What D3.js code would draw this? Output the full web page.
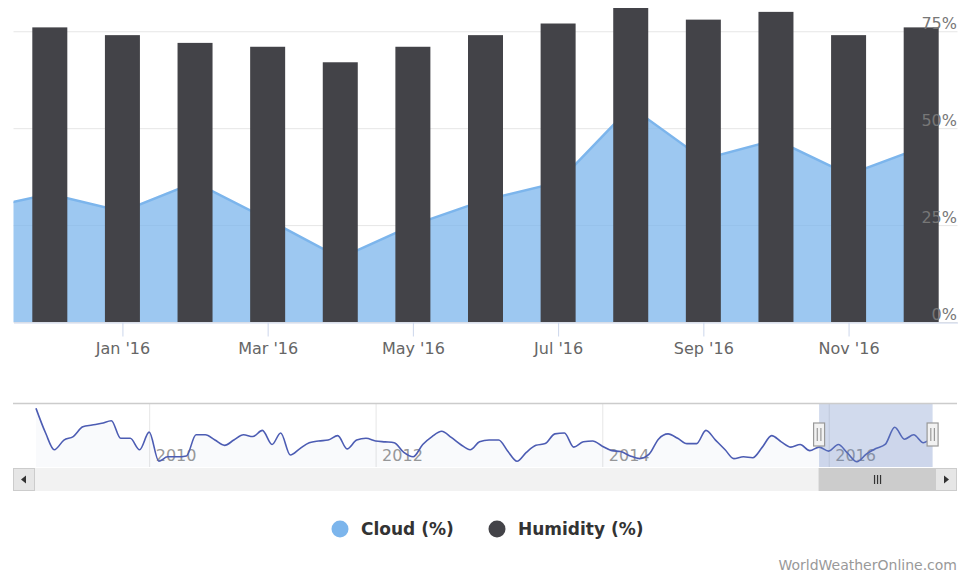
<!DOCTYPE html>
<html>
<head>
<meta charset="utf-8">
<script src="https://cdn.jsdelivr.net/npm/d3@7"></script>
<style>
  body { margin: 0; background: #fff; }
  svg { display: block; font-family: "DejaVu Sans", Verdana, sans-serif; }
</style>
</head>
<body>
<svg id="chart" width="961" height="575"></svg>
<script>
// Monthly cloud cover (%), January to December of each year
const cloud2009 = [77, 49, 30, 41, 45, 56, 58, 60, 63, 43, 43, 30];
const cloud2010 = [50, 17, 22, 22, 23, 47, 47, 41, 35, 41, 47, 45];
const cloud2011 = [52, 36, 49, 24, 31, 38, 40, 41, 46, 31, 41, 43];
const cloud2012 = [40, 39, 38, 27, 22, 36, 45, 51, 44, 36, 30, 39];
const cloud2013 = [41, 41, 29, 17, 27, 35, 37, 48, 49, 33, 39, 40];
const cloud2014 = [34, 29, 28, 23, 20, 25, 42, 48, 43, 37, 37, 52];
const cloud2015 = [41, 30, 20, 22, 21, 33, 46, 39, 33, 36, 29, 33];
const cloud2016 = [28.5, 36, 26.5, 16.5, 25, 31.5, 36, 55.5, 42, 47, 38, 45];

// Monthly humidity (%), Dec '15 to Dec '16
const humidity = [76, 74, 72, 71, 67, 71, 74, 77, 81, 78, 80, 74, 76];
const humidityFirstMonth = "Dec '15";

const seriesNames = ["Cloud (%)", "Humidity (%)"];
const seriesColors = ["#7cb5ec", "#434348"];
const monthTickLabels = ["Jan '16", "Mar '16", "May '16", "Jul '16", "Sep '16", "Nov '16"];
const percentTicks = [0, 25, 50, 75];
const creditText = "WorldWeatherOnline.com";

const cloud = [].concat(cloud2009, cloud2010, cloud2011, cloud2012,
                        cloud2013, cloud2014, cloud2015, cloud2016);
const months = d3.utcMonths(new Date(Date.UTC(2009, 0, 1)), new Date(Date.UTC(2017, 0, 1)));
const monthLabel = d3.utcFormat("%b '%y");
const labels = months.map(monthLabel);
const hStart = labels.indexOf(humidityFirstMonth);
const lastIdx = cloud.length - 1;

const svg = d3.select("#chart");
const FONT = "'DejaVu Sans', Verdana, sans-serif";

// ---------- main plot ----------
const plot = { left: 13.5, right: 957.5, top: 8, bottom: 322 };

// ordinal month axis: one equal step per month, half a step padding at both ends
const x = d3.scaleLinear()
  .domain([hStart - 0.5, lastIdx + 0.5])
  .range([plot.left, plot.right]);
const step = x(1) - x(0);
const barW = step * 0.482;

const y = d3.scaleLinear()
  .domain([0, d3.max(humidity)])
  .range([plot.bottom, plot.top]);

svg.append("defs").append("clipPath").attr("id", "plotClip")
  .append("rect")
  .attr("x", plot.left).attr("y", 0)
  .attr("width", plot.right - plot.left).attr("height", plot.bottom);

// horizontal grid
const grid = svg.append("g")
  .attr("transform", `translate(${plot.left},0)`)
  .call(d3.axisLeft(y).tickValues(percentTicks).tickSize(-(plot.right - plot.left)).tickFormat(""));
grid.select(".domain").remove();
grid.selectAll("line").attr("stroke", "#e6e6e6");

const series = svg.append("g").attr("clip-path", "url(#plotClip)");

// cloud area (includes the month before the first bar so it runs to the left edge)
const cloudPts = d3.range(hStart - 1, lastIdx + 1).map(i => ({ i, v: cloud[i] }));
const area = d3.area()
  .x(d => x(d.i)).y0(plot.bottom).y1(d => y(d.v));
const line = d3.line().x(d => x(d.i)).y(d => y(d.v));

series.append("path")
  .datum(cloudPts)
  .attr("d", area)
  .attr("fill", seriesColors[0])
  .attr("fill-opacity", 0.75);
series.append("path")
  .datum(cloudPts)
  .attr("d", line)
  .attr("fill", "none")
  .attr("stroke", seriesColors[0])
  .attr("stroke-width", 2.5);

// humidity columns
series.selectAll("rect.hum")
  .data(humidity)
  .join("rect")
  .attr("class", "hum")
  .attr("x", (d, k) => x(hStart + k) - barW / 2)
  .attr("width", barW)
  .attr("y", d => y(d))
  .attr("height", d => plot.bottom - y(d))
  .attr("fill", seriesColors[1]);

// x axis
const tickIdx = monthTickLabels.map(l => labels.indexOf(l));
const xAxis = svg.append("g")
  .attr("transform", `translate(0,${plot.bottom + 0.5})`)
  .call(d3.axisBottom(x).tickValues(tickIdx).tickFormat(i => labels[i])
        .tickSize(14).tickSizeOuter(0).tickPadding(6));
xAxis.select(".domain").attr("stroke", "#ccd6eb");
xAxis.selectAll(".tick line").attr("stroke", "#ccd6eb");
xAxis.selectAll("text").attr("fill", "#666").style("font-size", "16px").style("font-family", FONT);

// y axis labels (inside the plot, right side, above each grid line)
const yAxis = svg.append("g")
  .attr("transform", `translate(957,0)`)
  .call(d3.axisLeft(y).tickValues(percentTicks).tickFormat(d => d + "%").tickSize(0).tickPadding(0));
yAxis.select(".domain").remove();
yAxis.selectAll("text")
  .attr("dy", -3)
  .attr("fill", "#777")
  .style("font-size", "16px")
  .style("font-family", FONT);

// ---------- navigator ----------
const nav = { left: 36, right: 932.6, top: 403, bottom: 467 };
const navX = d3.scaleUtc()
  .domain([months[0], months[lastIdx]])
  .range([nav.left, nav.right]);
const [cMin, cMax] = d3.extent(cloud);
const pad = (cMax - cMin) * 0.1;
const navY = d3.scaleLinear()
  .domain([cMin - pad, cMax + pad])
  .range([nav.bottom, nav.top]);

const navGrid = svg.append("g")
  .attr("transform", `translate(0,${nav.bottom})`)
  .call(d3.axisBottom(navX).ticks(d3.utcYear.every(2)).tickFormat(d3.utcFormat("%Y"))
        .tickSize(-(nav.bottom - nav.top)).tickSizeOuter(0));
navGrid.select(".domain").remove();
navGrid.selectAll(".tick line").attr("stroke", "#e6e6e6");
navGrid.selectAll("text")
  .attr("text-anchor", "start")
  .attr("x", 6).attr("y", -6).attr("dy", 0)
  .attr("fill", "#999")
  .style("font-size", "16px")
  .style("font-family", FONT);

const navData = cloud.map((v, i) => ({ d: months[i], v }));
svg.append("path")
  .datum(navData)
  .attr("d", d3.area().curve(d3.curveMonotoneX)
    .x(d => navX(d.d)).y0(nav.bottom).y1(d => navY(d.v)))
  .attr("fill", "#335cad").attr("fill-opacity", 0.03);
svg.append("path")
  .datum(navData)
  .attr("d", d3.line().curve(d3.curveMonotoneX).x(d => navX(d.d)).y(d => navY(d.v)))
  .attr("fill", "none")
  .attr("stroke", "#4c5cb3")
  .attr("stroke-width", 1.6);

// selected range
const selL = navX(months[hStart]);
const selR = navX(months[lastIdx]);
svg.append("rect")
  .attr("x", selL).attr("y", nav.top)
  .attr("width", selR - selL).attr("height", nav.bottom - nav.top)
  .attr("fill", "rgba(102,133,194,0.3)");

// navigator outline
svg.append("line")
  .attr("x1", 13).attr("x2", 957)
  .attr("y1", nav.top + 0.5).attr("y2", nav.top + 0.5)
  .attr("stroke", "#ccc").attr("stroke-width", 1.5);

// scrollbar
const sb = { left: 13, right: 957, top: 468, h: 23, btn: 22 };
svg.append("rect")
  .attr("x", sb.left).attr("y", sb.top).attr("width", sb.right - sb.left).attr("height", sb.h)
  .attr("fill", "#f2f2f2");
const thumbL = selL, thumbR = sb.right - sb.btn;
svg.append("rect")
  .attr("x", thumbL).attr("y", sb.top + 0.5).attr("width", thumbR - thumbL).attr("height", sb.h - 1)
  .attr("fill", "#ccc").attr("stroke", "#ccc");
const rc = (thumbL + thumbR) / 2;
[-3, 0, 3].forEach(o => {
  svg.append("line")
    .attr("x1", rc + o + 0.5).attr("x2", rc + o + 0.5)
    .attr("y1", sb.top + 7).attr("y2", sb.top + 16)
    .attr("stroke", "#333").attr("stroke-width", 1.2);
});
[[sb.left, -1], [sb.right - sb.btn, 1]].forEach(([bx, dir]) => {
  svg.append("rect")
    .attr("x", bx + 0.5).attr("y", sb.top + 0.5).attr("width", sb.btn - 1).attr("height", sb.h - 1)
    .attr("fill", "#e6e6e6").attr("stroke", "#ccc");
  const cx = bx + sb.btn / 2, cy = sb.top + sb.h / 2;
  svg.append("path")
    .attr("d", `M${cx + dir * 3},${cy} L${cx - dir * 2},${cy - 4} L${cx - dir * 2},${cy + 4} Z`)
    .attr("fill", "#333");
});

// range handles
[selL, selR].forEach(hx => {
  const hy = 423, hh = 23, hw = 11;
  svg.append("rect")
    .attr("x", hx - hw / 2).attr("y", hy).attr("width", hw).attr("height", hh)
    .attr("fill", "#f2f2f2").attr("stroke", "#999").attr("stroke-width", 1.2);
  [-1.8, 1.8].forEach(o => {
    svg.append("line")
      .attr("x1", hx + o).attr("x2", hx + o)
      .attr("y1", hy + 5).attr("y2", hy + hh - 5)
      .attr("stroke", "#999").attr("stroke-width", 1.2);
  });
});

// ---------- legend ----------
const legendItems = [
  { name: seriesNames[0], color: seriesColors[0], cx: 340 },
  { name: seriesNames[1], color: seriesColors[1], cx: 497 }
];
const lg = svg.append("g");
legendItems.forEach(it => {
  lg.append("circle").attr("cx", it.cx).attr("cy", 529).attr("r", 8.5).attr("fill", it.color);
  lg.append("text")
    .attr("x", it.cx + 21).attr("y", 535)
    .attr("fill", "#333")
    .style("font-size", "17px").style("font-weight", "bold").style("font-family", FONT)
    .text(it.name);
});

// credit
svg.append("text")
  .attr("x", 957).attr("y", 570)
  .attr("text-anchor", "end")
  .attr("fill", "#999")
  .style("font-size", "14px").style("font-family", FONT)
  .text(creditText);
</script>
</body>
</html>
